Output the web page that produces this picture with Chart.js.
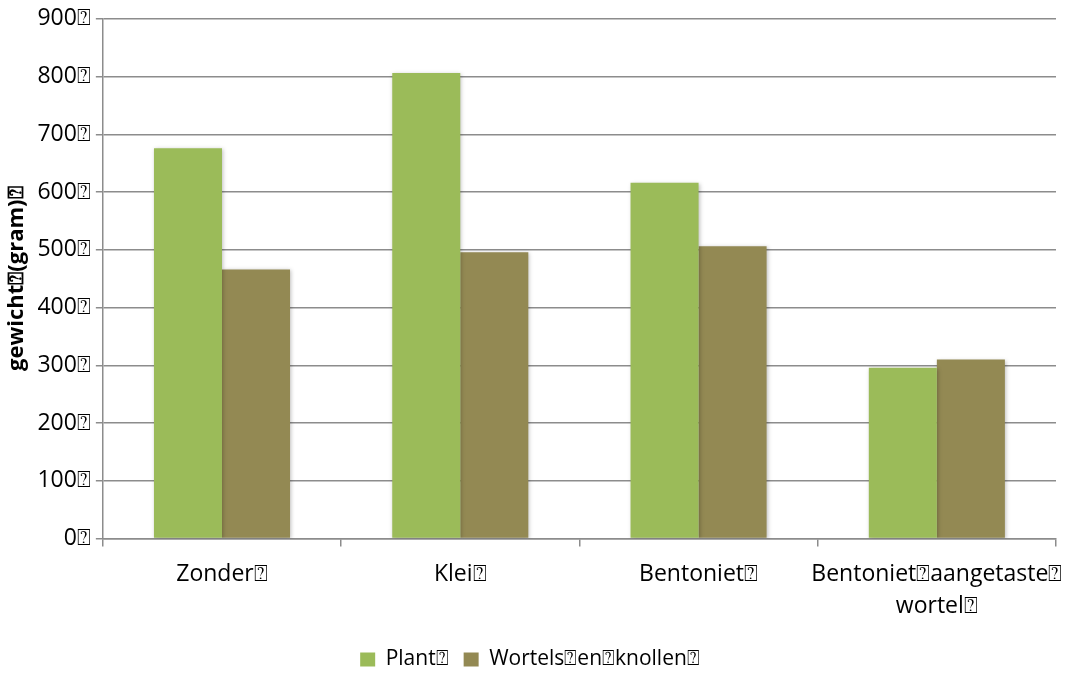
<!DOCTYPE html>
<html>
<head>
<meta charset="utf-8">
<script src="https://cdn.jsdelivr.net/npm/chart.js@4"></script>
<style>
  html, body { margin: 0; padding: 0; background: #fff; }
  #wrap { width: 1069px; height: 673px; }
</style>
</head>
<body>
<div id="wrap"><canvas id="myChart"></canvas></div>
<script>
const categories = ['Zonder\u2370', 'Klei\u2370', 'Bentoniet\u2370', ['Bentoniet\u2370aangetaste\u2370', 'wortel\u2370']];
const plantValues = [676, 806, 616, 296];
const wortelValues = [466, 496, 506, 310];
const seriesNames = ['Plant\u2370', 'Wortels\u2370en\u2370knollen\u2370'];
const yTicks = [0, 100, 200, 300, 400, 500, 600, 700, 800, 900];

const fontFamily = '"Open Sans", sans-serif';
const gridGray = '#8c8c8c';

// soft drop shadow under the bars
const barShadow = {
  id: 'barShadow',
  beforeDatasetsDraw(chart) {
    const ctx = chart.ctx;
    ctx.save();
    ctx.shadowColor = 'rgba(0,0,0,0.25)';
    ctx.shadowBlur = 4;
    ctx.shadowOffsetX = 1;
    ctx.shadowOffsetY = 1;
  },
  afterDatasetsDraw(chart) {
    chart.ctx.restore();
  }
};

// push the legend a bit lower, closer to the bottom edge
const legendNudge = {
  id: 'legendNudge',
  afterLayout(chart) {
    if (chart.legend) {
      chart.legend.top += 7;
      chart.legend.bottom += 7;
    }
  }
};

const data = {
  labels: categories,
  datasets: [
    { label: seriesNames[0], data: plantValues, backgroundColor: '#9bbb59' },
    { label: seriesNames[1], data: wortelValues, backgroundColor: '#938953' }
  ]
};

const config = {
  type: 'bar',
  data,
  plugins: [barShadow, legendNudge],
  options: {
    responsive: true,
    maintainAspectRatio: false,
    animation: false,
    layout: { padding: { left: 4, right: 13, top: 13, bottom: 0 } },
    datasets: {
      bar: { barPercentage: 1, categoryPercentage: 0.571 }
    },
    plugins: {
      legend: {
        position: 'bottom',
        labels: {
          font: { family: fontFamily, size: 21 },
          color: '#000',
          boxWidth: 15,
          boxHeight: 14,
          padding: 15
        }
      },
      tooltip: { enabled: false }
    },
    scales: {
      x: {
        // long last label may run past the plot edge, keep the plot width fixed
        afterFit(scale) {
          scale.paddingLeft = 0;
          scale.paddingRight = 0;
          scale.height -= 8;
        },
        grid: {
          offset: true,
          drawOnChartArea: false,
          drawTicks: true,
          tickLength: 8,
          color: gridGray,
          lineWidth: 1.5
        },
        border: { color: gridGray, width: 1.5 },
        ticks: {
          font: { family: fontFamily, size: 23, lineHeight: 1.4 },
          color: '#000',
          padding: 12,
          autoSkip: false,
          maxRotation: 0,
          minRotation: 0
        }
      },
      y: {
        min: 0,
        max: 900,
        afterBuildTicks(axis) {
          axis.ticks = yTicks.map(v => ({ value: v }));
        },
        grid: {
          color: gridGray,
          lineWidth: 1.5,
          tickLength: 7
        },
        border: { color: gridGray, width: 1.5 },
        ticks: {
          font: { family: fontFamily, size: 23 },
          color: '#000',
          padding: 5,
          callback: v => v + '\u2370'
        },
        title: {
          display: true,
          text: 'gewicht\u2370(gram)\u2370',
          font: { family: fontFamily, size: 22, weight: 'bold' },
          color: '#000',
          padding: { top: 0, bottom: 2 }
        }
      }
    }
  }
};

const myChart = new Chart(document.getElementById('myChart'), config);
</script>
</body>
</html>
